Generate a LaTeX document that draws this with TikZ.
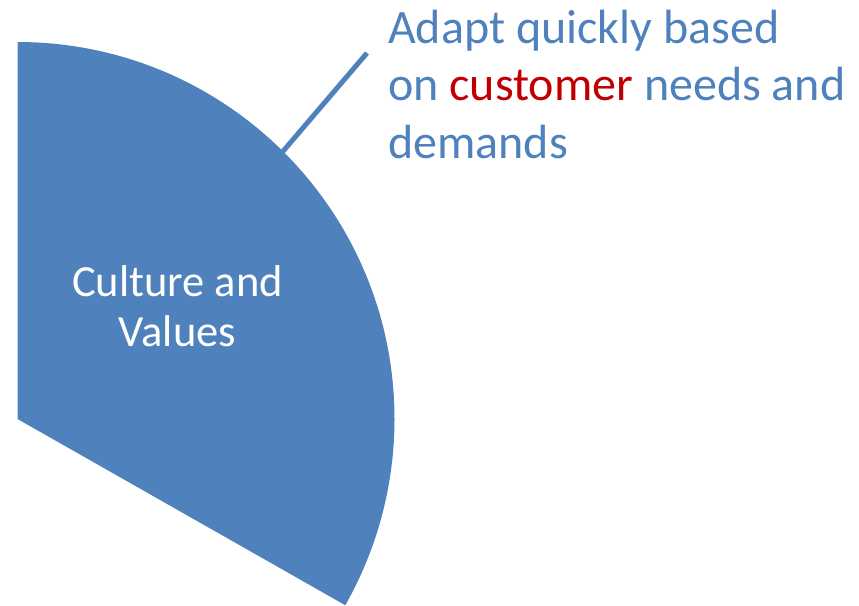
\documentclass[tikz,border=0pt]{standalone}
\usepackage{fontspec}
\setmainfont{Carlito}
\definecolor{pieblue}{HTML}{4F81BD}
\definecolor{txtblue}{HTML}{4F81BD}
\definecolor{custred}{HTML}{C00000}
\begin{document}
\begin{tikzpicture}[x=1pt,y=-1pt,
  leader/.style={draw=pieblue,line width=5pt},
  calltext/.style={anchor=base west,inner sep=0pt,align=left,text=txtblue,font=\fontsize{48}{57.5}\selectfont},
  slicetext/.style={inner sep=0pt,align=center,text=white,font=\fontsize{44.5}{50}\selectfont}]
\useasboundingbox (0,0) rectangle (859,605);
\coordinate (ctr) at (17.5,419);
\fill[pieblue] (ctr) -- (17.5,42) arc[start angle=-90,end angle=29.6,radius=377] -- cycle;
\node[slicetext] (slice) at (177.5,306) {Culture and\\Values};
\coordinate (lineA) at (273,163);
\coordinate (lineB) at (367,53);
\draw[leader] (lineA) -- (lineB);
\node[calltext] (call) at (388,158) {Adapt quickly based\\on \textcolor{custred}{customer} needs and\\demands};
\end{tikzpicture}
\end{document}
